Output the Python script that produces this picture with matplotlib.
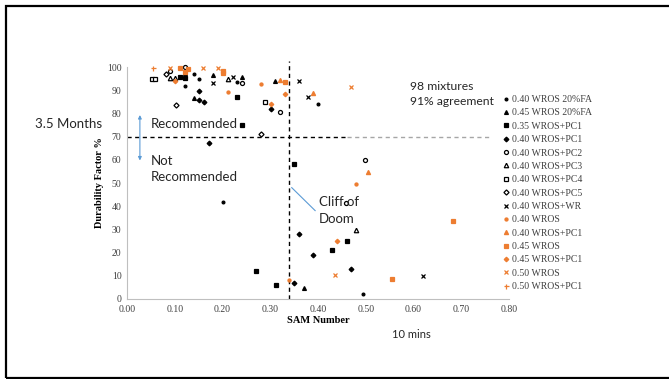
import matplotlib
matplotlib.use('Agg')
import matplotlib.pyplot as plt
from matplotlib.patches import Rectangle

# series: (x = SAM number, y = durability factor %)
fa40_x = [0.141, 0.151, 0.121, 0.231, 0.401, 0.200, 0.495]
fa40_y = [97.0, 94.8, 91.8, 93.7, 83.9, 41.9, 2.0]

fa45_x = [0.121, 0.141, 0.181, 0.241, 0.310, 0.371]
fa45_y = [97.4, 86.8, 96.5, 95.8, 94.0, 4.9]

pc1_35_x = [0.111, 0.121, 0.231, 0.241, 0.271, 0.311, 0.350, 0.430, 0.460]
pc1_35_y = [95.8, 95.4, 86.9, 74.9, 12.1, 5.9, 58.2, 21.1, 25.0]

pc1_40_x = [0.151, 0.151, 0.161, 0.172, 0.301, 0.350, 0.360, 0.390, 0.470]
pc1_40_y = [89.8, 85.8, 84.9, 67.1, 81.9, 7.0, 27.9, 19.0, 13.1]

pc2_x = [0.121, 0.090, 0.241, 0.320, 0.498, 0.459]
pc2_y = [100.0, 98.3, 93.0, 80.7, 59.9, 41.2]

pc3_x = [0.090, 0.101, 0.211, 0.480]
pc3_y = [95.4, 95.4, 94.7, 29.7]

pc4_x = [0.052, 0.059, 0.290]
pc4_y = [94.8, 94.8, 84.8]

pc5_x = [0.082, 0.102, 0.281]
pc5_y = [96.8, 83.7, 71.0]

wr_x = [0.181, 0.221, 0.360, 0.380, 0.619]
wr_y = [93.0, 95.8, 94.0, 86.9, 9.9]

w40_x = [0.211, 0.280, 0.340, 0.480]
w40_y = [89.1, 92.7, 8.2, 49.4]

w40pc1_x = [0.320, 0.390, 0.504]
w40pc1_y = [94.4, 88.9, 54.6]

w45_x = [0.111, 0.128, 0.121, 0.200, 0.200, 0.331, 0.554, 0.683]
w45_y = [99.7, 99.0, 98.0, 98.3, 97.2, 93.4, 8.5, 33.6]

w45pc1_x = [0.101, 0.301, 0.331, 0.440]
w45pc1_y = [94.0, 83.9, 88.4, 25.1]

w50_x = [0.090, 0.160, 0.191, 0.469, 0.436]
w50_y = [99.7, 99.7, 99.7, 91.4, 10.3]

w50pc1_x = [0.055]
w50pc1_y = [99.7]

x_ticks = [0.0, 0.1, 0.2, 0.3, 0.4, 0.5, 0.6, 0.7, 0.8]
y_ticks = [0, 10, 20, 30, 40, 50, 60, 70, 80, 90, 100]

cliff_x = 0.339   # recommended SAM limit
df_limit = 70     # recommended durability factor

orange = '#ED7D31'
blue = '#5B9BD5'
txt = '#262626'

fig = plt.figure(figsize=(6.69, 3.79), dpi=100)
ax = fig.add_axes([127 / 669, 1 - 299 / 379, 382 / 669, 232 / 379])

series = [
    (fa40_x, fa40_y, 'o', 'black', 'black', 2.0, '0.40 WROS 20%FA'),
    (fa45_x, fa45_y, '^', 'black', 'black', 2.8, '0.45 WROS 20%FA'),
    (pc1_35_x, pc1_35_y, 's', 'black', 'black', 2.4, '0.35 WROS+PC1'),
    (pc1_40_x, pc1_40_y, 'D', 'black', 'black', 2.4, '0.40 WROS+PC1'),
    (pc2_x, pc2_y, 'o', 'white', 'black', 2.9, '0.40 WROS+PC2'),
    (pc3_x, pc3_y, '^', 'white', 'black', 3.2, '0.40 WROS+PC3'),
    (pc4_x, pc4_y, 's', 'white', 'black', 2.7, '0.40 WROS+PC4'),
    (pc5_x, pc5_y, 'D', 'white', 'black', 2.6, '0.40 WROS+PC5'),
    (wr_x, wr_y, 'x', 'black', 'black', 3.2, '0.40 WROS+WR'),
    (w40_x, w40_y, 'o', orange, orange, 2.2, '0.40 WROS'),
    (w40pc1_x, w40pc1_y, '^', orange, orange, 3.0, '0.40 WROS+PC1'),
    (w45_x, w45_y, 's', orange, orange, 2.5, '0.45 WROS'),
    (w45pc1_x, w45pc1_y, 'D', orange, orange, 2.3, '0.45 WROS+PC1'),
    (w50_x, w50_y, 'x', orange, orange, 3.2, '0.50 WROS'),
    (w50pc1_x, w50pc1_y, '+', orange, orange, 3.6, '0.50 WROS+PC1'),
]
for xs, ys, m, fc, ec, ms, lab in series:
    ax.plot(xs, ys, linestyle='none', marker=m, markersize=ms,
            markerfacecolor=fc, markeredgecolor=ec, markeredgewidth=0.9,
            label=lab, clip_on=False, zorder=3)

# threshold lines
ax.plot([cliff_x, cliff_x], [0, 102.5], 'k--', lw=1.0, dashes=(3, 2.5), clip_on=False)
ax.plot([0, 0.46], [df_limit, df_limit], 'k--', lw=1.0, dashes=(3, 2.5), clip_on=False)
ax.plot([0.46, 0.76], [df_limit, df_limit], '--', color='#A6A6A6', lw=1.0,
        dashes=(3, 2.5), clip_on=False)

ax.set_xlim(0, 0.8)
ax.set_ylim(0, 100)
ax.set_xticks(x_ticks)
ax.set_yticks(y_ticks)
ax.set_xticklabels(['%.2f' % v for v in x_ticks])
ax.tick_params(length=0, labelsize=7, pad=4, labelcolor='#404040')
for lab in ax.get_xticklabels() + ax.get_yticklabels():
    lab.set_fontfamily('Liberation Serif')
for s in ['top', 'right']:
    ax.spines[s].set_visible(False)
for s in ['left', 'bottom']:
    ax.spines[s].set_color('#BFBFBF')
    ax.spines[s].set_linewidth(0.8)

ax.set_xlabel('SAM Number', fontfamily='Liberation Serif', fontweight='bold',
              fontsize=7.5, labelpad=2)
ax.set_ylabel('Durability Factor %', fontfamily='Liberation Serif',
              fontweight='bold', fontsize=7.5, labelpad=2)

# annotations
ax.annotate('', xy=(0.027, 58.5), xytext=(0.027, 80.5),
            arrowprops=dict(arrowstyle='<|-|>', color=blue, lw=0.8,
                            mutation_scale=5))
ax.text(0.05, 75.4, 'Recommended', fontfamily='Lato', fontsize=9.5,
        va='center', ha='left', color=txt)
ax.text(0.05, 56.0, 'Not\nRecommended', fontfamily='Lato', fontsize=9.5,
        va='center', ha='left', linespacing=1.45, color=txt)
ax.plot([0.345, 0.394], [48.0, 38.1], color=blue, lw=0.8)
ax.text(0.402, 38.2, 'Cliff of\nDoom', fontfamily='Lato', fontsize=9.5,
        va='center', ha='left', linespacing=1.45, color=txt)
ax.text(0.593, 88.2, '98 mixtures\n91% agreement', fontfamily='Lato',
        fontsize=8.7, va='center', ha='left', linespacing=1.45, color=txt)

fig.text(35 / 669, 1 - 124 / 379, '3.5 Months', fontfamily='Lato',
         fontsize=9.5, va='center', ha='left', color=txt)
fig.text(411 / 669, 1 - 335 / 379, '10 mins', fontfamily='Lato',
         fontsize=8, va='center', ha='center', color=txt)

leg = ax.legend(loc='upper left', bbox_to_anchor=(503 / 669, 1 - 95 / 379),
                bbox_transform=fig.transFigure, frameon=False,
                prop={'family': 'Liberation Serif', 'size': 7},
                handlelength=0.6, handletextpad=0.3, labelspacing=0.45,
                borderpad=0, borderaxespad=0)
for t in leg.get_texts():
    t.set_color('#404040')

# slide frame
fig.patches.append(Rectangle((6 / 669, 1 - 377.5 / 379), 1.0, 371.5 / 379,
                             transform=fig.transFigure, fill=False,
                             edgecolor='black', lw=1.6))

fig.savefig('out.png', dpi=100)
